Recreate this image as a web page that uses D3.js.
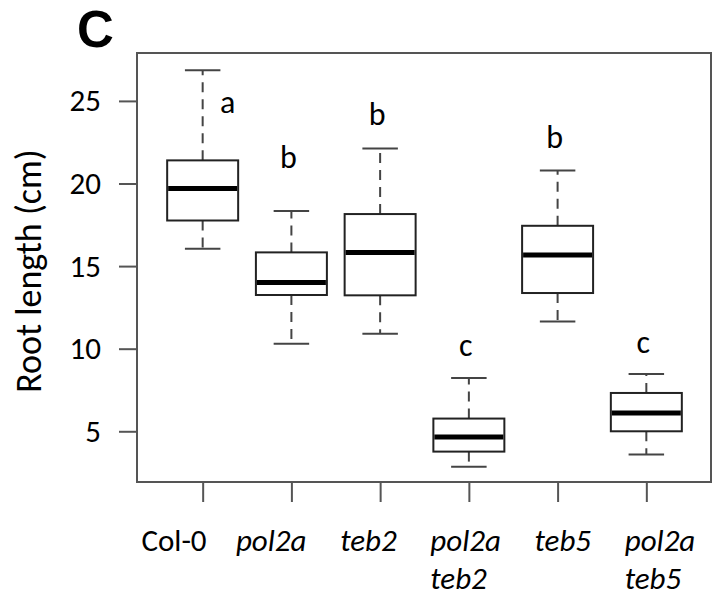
<!DOCTYPE html>
<html lang="en">
  <head>
    <meta charset="UTF-8" />
    <title>Root length boxplot</title>
    <script src="https://d3js.org/d3.v7.min.js"></script>
    <style>
      body {
        margin: 0;
        background: #fff;
      }
      svg {
        display: block;
        font-family: Carlito, Lato, "Open Sans", sans-serif;
      }
      .frame {
        fill: none;
        stroke: #555;
        stroke-width: 2px;
      }
      .tick line {
        stroke: #555;
        stroke-width: 2px;
      }
      .box {
        fill: #fff;
        stroke: #222;
        stroke-width: 2px;
      }
      .median {
        stroke: #000;
        stroke-width: 5px;
      }
      .whisker {
        stroke: #444;
        stroke-width: 2px;
        stroke-dasharray: 10 7;
      }
      .cap {
        stroke: #444;
        stroke-width: 2px;
      }
    </style>
  </head>
  <body>
    <svg id="chart" width="712" height="596"></svg>

    <script>
      // groups (genotypes) and the label lines under each one
      const groups = ["Col-0", "pol2a", "teb2", "pol2a teb2", "teb5", "pol2a teb5"];
      const labelLines = [["Col-0"], ["pol2a"], ["teb2"], ["pol2a", "teb2"], ["teb5"], ["pol2a", "teb5"]];
      const italic = [false, true, true, true, true, true];

      // boxplot statistics (cm)
      const whiskerLow = [16.05, 10.3, 10.9, 2.85, 11.65, 3.59];
      const q1 = [17.76, 13.25, 13.23, 3.77, 13.37, 5.0];
      const median = [19.7, 14.0, 15.83, 4.66, 15.67, 6.11];
      const q3 = [21.4, 15.83, 18.15, 5.77, 17.44, 7.32];
      const whiskerHigh = [26.86, 18.33, 22.12, 8.23, 20.79, 8.47];

      // significance letters and the height (cm) of their baseline
      const letters = ["a", "b", "b", "c", "b", "c"];
      const letterAt = [24.28, 20.95, 23.55, 9.54, 22.15, 9.76];

      const yTicks = [5, 10, 15, 20, 25];

      // ----------------------------------------------------------------
      const svg = d3.select("#chart");
      const plotL = 137, plotR = 712, plotT = 53, plotB = 482;

      // R style: positions 1..n, range padded by 4%
      const n = groups.length;
      const x = d3.scaleLinear().domain([0.5 - 0.04 * n, n + 0.5 + 0.04 * n]).range([plotL, plotR]);
      const y = d3.scaleLinear().domain([1.93, 27.9]).range([plotB, plotT]);

      const data = groups.map((g, i) => ({
        name: g,
        pos: i + 1,
        lo: whiskerLow[i],
        q1: q1[i],
        med: median[i],
        q3: q3[i],
        hi: whiskerHigh[i],
        letter: letters[i],
        letterAt: letterAt[i],
        lines: labelLines[i],
        italic: italic[i],
      }));

      // plot frame
      svg.append("rect")
        .attr("class", "frame")
        .attr("x", plotL)
        .attr("y", plotT)
        .attr("width", plotR - plotL - 1)
        .attr("height", plotB - plotT);

      // y axis
      const yAxis = svg.append("g")
        .attr("transform", `translate(${plotL},0)`)
        .call(d3.axisLeft(y).tickValues(yTicks).tickSize(18).tickPadding(18).tickFormat(d3.format("d")));
      yAxis.select(".domain").remove();
      yAxis.attr("font-family", null).attr("font-size", null);
      yAxis.selectAll("text")
        .attr("fill", "#000")
        .style("font-size", "31px");

      // x axis ticks (labels drawn separately)
      const xAxis = svg.append("g")
        .attr("transform", `translate(0,${plotB})`)
        .call(d3.axisBottom(x).tickValues(data.map((d) => d.pos)).tickSize(20).tickFormat(""));
      xAxis.select(".domain").remove();

      const boxHalf = 0.4, capHalf = 0.2;

      const g = svg.selectAll("g.grp")
        .data(data)
        .join("g")
        .attr("class", "grp");

      // whiskers
      g.append("line")
        .attr("class", "whisker")
        .attr("x1", (d) => x(d.pos))
        .attr("x2", (d) => x(d.pos))
        .attr("y1", (d) => y(d.q3))
        .attr("y2", (d) => y(d.hi));
      g.append("line")
        .attr("class", "whisker")
        .attr("x1", (d) => x(d.pos))
        .attr("x2", (d) => x(d.pos))
        .attr("y1", (d) => y(d.q1))
        .attr("y2", (d) => y(d.lo));

      // caps
      ["hi", "lo"].forEach((k) => {
        g.append("line")
          .attr("class", "cap")
          .attr("x1", (d) => x(d.pos - capHalf))
          .attr("x2", (d) => x(d.pos + capHalf))
          .attr("y1", (d) => y(d[k]))
          .attr("y2", (d) => y(d[k]));
      });

      // boxes
      g.append("rect")
        .attr("class", "box")
        .attr("x", (d) => x(d.pos - boxHalf))
        .attr("width", (d) => x(d.pos + boxHalf) - x(d.pos - boxHalf))
        .attr("y", (d) => y(d.q3))
        .attr("height", (d) => y(d.q1) - y(d.q3));

      g.append("line")
        .attr("class", "median")
        .attr("x1", (d) => x(d.pos - boxHalf) + 1)
        .attr("x2", (d) => x(d.pos + boxHalf) - 1)
        .attr("y1", (d) => y(d.med))
        .attr("y2", (d) => y(d.med));

      // letters: shifted to the side when they would sit on the whisker
      g.append("text")
        .attr("x", (d) => x(d.pos) + (d.letterAt < d.hi ? 25 : -3))
        .attr("y", (d) => y(d.letterAt))
        .attr("text-anchor", "middle")
        .style("font-size", "32px")
        .text((d) => d.letter);

      // x labels
      const labelX = d3.scalePoint().domain(groups).range([174, 660]);
      const lab = svg.selectAll("text.xlab")
        .data(data)
        .join("text")
        .attr("class", "xlab")
        .style("font-size", "31px")
        .style("font-style", (d) => (d.italic ? "italic" : "normal"));

      lab.each(function (d) {
        const t = d3.select(this);
        // first line centred, further lines start at the same left edge
        const first = t.append("tspan").text(d.lines[0]);
        const w = first.node().getComputedTextLength();
        const x0 = labelX(d.name) - w / 2;
        first.attr("x", x0).attr("y", 551);
        d.lines.slice(1).forEach((s, j) => {
          t.append("tspan").attr("x", x0).attr("y", 551 + 38 * (j + 1)).text(s);
        });
      });

      // y axis title
      svg.append("text")
        .attr("transform", `translate(41,271) rotate(-90)`)
        .attr("text-anchor", "middle")
        .style("font-size", "36px")
        .text("Root length (cm)");

      // panel letter
      svg.append("text")
        .attr("x", 77)
        .attr("y", 47)
        .style("font-family", "'Liberation Sans', Arial, sans-serif")
        .style("font-size", "51px")
        .style("font-weight", "700")
        .text("C");
    </script>
  </body>
</html>
